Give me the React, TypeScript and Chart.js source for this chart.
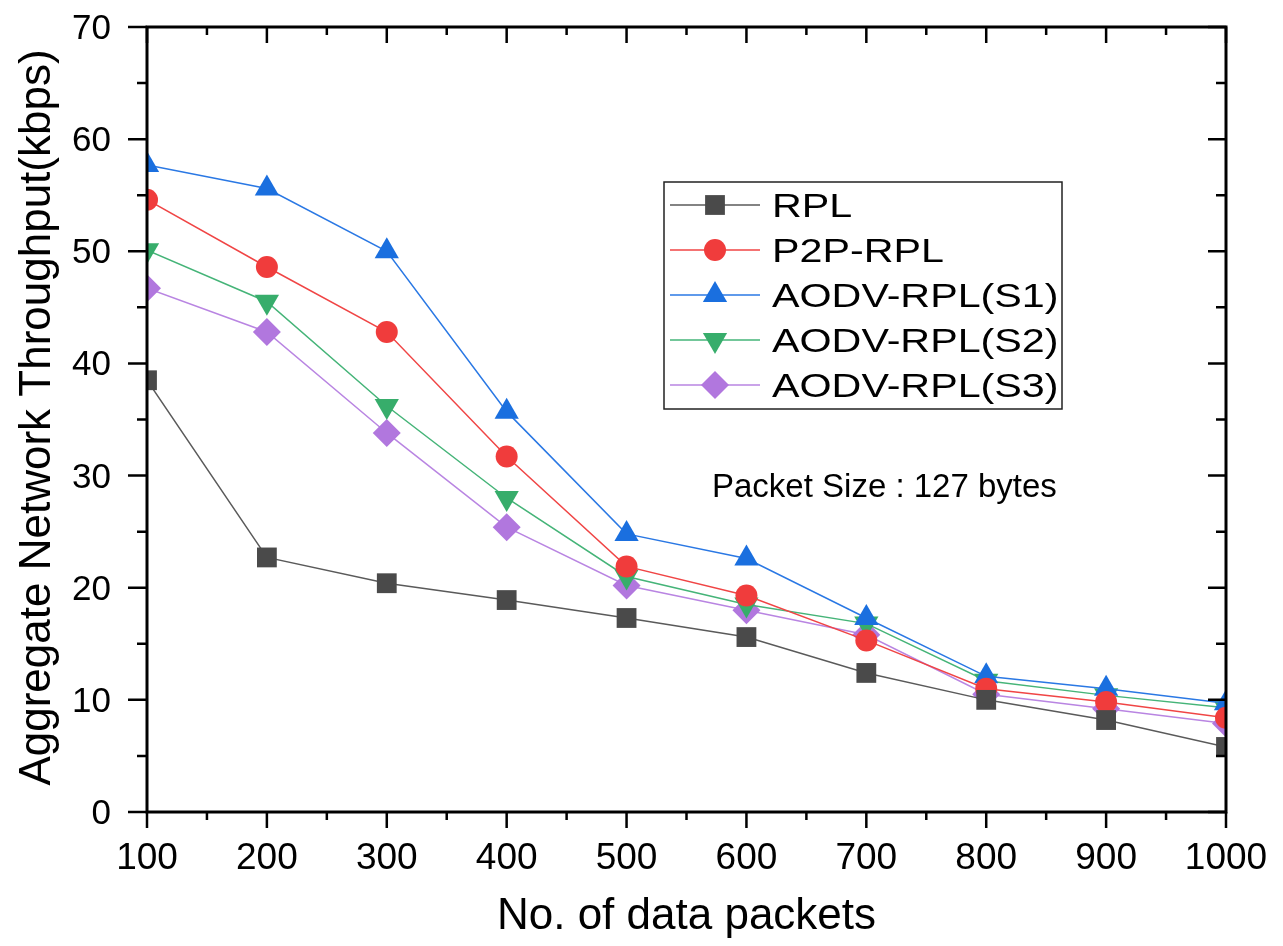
import React, { useEffect, useRef } from "react";
import { Chart, registerables } from "chart.js";
import { drawPoint } from "chart.js/helpers";

Chart.register(...registerables);

const packets = [100, 200, 300, 400, 500, 600, 700, 800, 900, 1000];
const rpl = [38.5, 22.7, 20.4, 18.9, 17.3, 15.6, 12.4, 10.0, 8.2, 5.8];
const p2p = [54.6, 48.6, 42.8, 31.7, 21.9, 19.3, 15.3, 11.0, 9.8, 8.4];
const s1 = [57.7, 55.6, 50.0, 35.7, 24.8, 22.6, 17.3, 12.1, 11.0, 9.7];
const s2 = [50.1, 45.5, 36.2, 28.0, 21.0, 18.5, 16.8, 11.7, 10.4, 9.3];
const s3 = [46.7, 42.8, 33.8, 25.4, 20.2, 18.0, 15.8, 10.5, 9.2, 7.9];

const seriesNames = ["RPL", "P2P-RPL", "AODV-RPL(S1)", "AODV-RPL(S2)", "AODV-RPL(S3)"];
const xTickValues = [100, 200, 300, 400, 500, 600, 700, 800, 900, 1000];
const yTickValues = [0, 10, 20, 30, 40, 50, 60, 70];
const xTitle = "No. of data packets";
const yTitle = "Aggregate Network Throughput(kbps)";
const note = "Packet Size : 127 bytes";

const FONT = "'Liberation Sans', Arial, sans-serif";

const styles = [
  { line: "#5a5a5a", fill: "#4a4a4a", pointStyle: "rect", rotation: 0, radius: 14 },
  { line: "#f04545", fill: "#f03c3c", pointStyle: "circle", rotation: 0, radius: 11 },
  { line: "#2a78e4", fill: "#1a6fdf", pointStyle: "triangle", rotation: 0, radius: 14 },
  { line: "#45b478", fill: "#37ad6b", pointStyle: "triangle", rotation: 180, radius: 14 },
  { line: "#b985e2", fill: "#b177de", pointStyle: "rectRot", rotation: 0, radius: 14 },
];

const decorPlugin = {
  id: "decor",
  afterDraw(chart: any) {
    const ctx = chart.ctx as CanvasRenderingContext2D;
    const xs = chart.scales.x;
    const ys = chart.scales.y;
    const { left, right, top, bottom } = chart.chartArea;
    ctx.save();
    ctx.strokeStyle = "#000";
    ctx.fillStyle = "#000";
    ctx.lineWidth = 3;
    ctx.lineCap = "butt";
    // frame
    ctx.strokeRect(left, top, right - left, bottom - top);
    // x ticks (major + minor)
    ctx.lineWidth = 2.5;
    for (let v = 100; v <= 1000; v += 50) {
      const px = xs.getPixelForValue(v);
      const major = v % 100 === 0;
      ctx.beginPath();
      ctx.moveTo(px, bottom);
      ctx.lineTo(px, bottom + (major ? 16 : 8));
      ctx.moveTo(px, top);
      ctx.lineTo(px, top + (major ? 16 : 8));
      ctx.stroke();
    }
    for (let v = 0; v <= 70; v += 5) {
      const py = ys.getPixelForValue(v);
      const major = v % 10 === 0;
      ctx.beginPath();
      ctx.moveTo(left, py);
      ctx.lineTo(left - (major ? 19 : 10), py);
      ctx.moveTo(right, py);
      ctx.lineTo(right - (major ? 18 : 10), py);
      ctx.stroke();
    }
    // tick labels
    ctx.font = `37px ${FONT}`;
    ctx.textAlign = "center";
    ctx.textBaseline = "alphabetic";
    xTickValues.forEach((v) => {
      ctx.fillText(String(v), xs.getPixelForValue(v), 869);
    });
    ctx.font = `35px ${FONT}`;
    ctx.textAlign = "right";
    yTickValues.forEach((v) => {
      ctx.fillText(String(v), 111, ys.getPixelForValue(v) + 12);
    });
    // axis titles
    ctx.font = `44px ${FONT}`;
    ctx.textAlign = "center";
    ctx.fillText(xTitle, (left + right) / 2, 929);
    ctx.save();
    ctx.translate(50, (top + bottom) / 2 - 2);
    ctx.rotate(-Math.PI / 2);
    ctx.font = `44px ${FONT}`;
    ctx.fillText(yTitle, 0, 0);
    ctx.restore();
    // note
    ctx.font = `33px ${FONT}`;
    ctx.textAlign = "left";
    ctx.fillText(note, 712, 497);
    // legend
    ctx.fillStyle = "#fff";
    ctx.fillRect(664, 182, 398, 227);
    ctx.lineWidth = 1.5;
    ctx.strokeStyle = "#222";
    ctx.strokeRect(664, 182, 398, 227);
    const rows = [205, 250, 295, 340, 385];
    chart.data.datasets.forEach((ds: any, i: number) => {
      const y = rows[i];
      const st = styles[i];
      ctx.strokeStyle = st.line;
      ctx.lineWidth = 1.5;
      ctx.beginPath();
      ctx.moveTo(670, y);
      ctx.lineTo(760, y);
      ctx.stroke();
      ctx.fillStyle = st.fill;
      ctx.strokeStyle = st.fill;
      drawPoint(ctx, { pointStyle: st.pointStyle, rotation: st.rotation, radius: st.radius, borderWidth: 0 } as any, 715, y);
      ctx.fillStyle = "#000";
      ctx.save();
      ctx.translate(772, y + 12);
      ctx.scale(1.25, 1);
      ctx.font = `33px ${FONT}`;
      ctx.textAlign = "left";
      ctx.textBaseline = "alphabetic";
      ctx.fillText(ds.label, 0, 0);
      ctx.restore();
    });
    ctx.restore();
  },
};

export default function App() {
  const ref = useRef<HTMLCanvasElement>(null);
  useEffect(() => {
    document.body.style.margin = "0";
    const all = [rpl, p2p, s1, s2, s3];
    const chart = new Chart(ref.current!, {
      type: "line",
      data: {
        datasets: all.map((vals, i) => ({
          label: seriesNames[i],
          data: packets.map((p, j) => ({ x: p, y: vals[j] })),
          borderColor: styles[i].line,
          backgroundColor: styles[i].fill,
          borderWidth: 1.5,
          pointStyle: styles[i].pointStyle as any,
          pointRotation: styles[i].rotation,
          pointRadius: styles[i].radius,
          pointBorderWidth: 0,
          pointBackgroundColor: styles[i].fill,
          pointBorderColor: styles[i].fill,
          tension: 0,
          fill: false,
        })),
      },
      options: {
        responsive: false,
        animation: false,
        devicePixelRatio: 1,
        layout: { padding: { left: 147, right: 57, top: 27, bottom: 134 } },
        plugins: { legend: { display: false }, tooltip: { enabled: false } },
        scales: {
          x: { type: "linear", min: 100, max: 1000, display: false },
          y: { type: "linear", min: 0, max: 70, display: false },
        },
      },
      plugins: [decorPlugin],
    });
    return () => chart.destroy();
  }, []);
  return <canvas ref={ref} width={1283} height={946} style={{ display: "block" }} />;
}
